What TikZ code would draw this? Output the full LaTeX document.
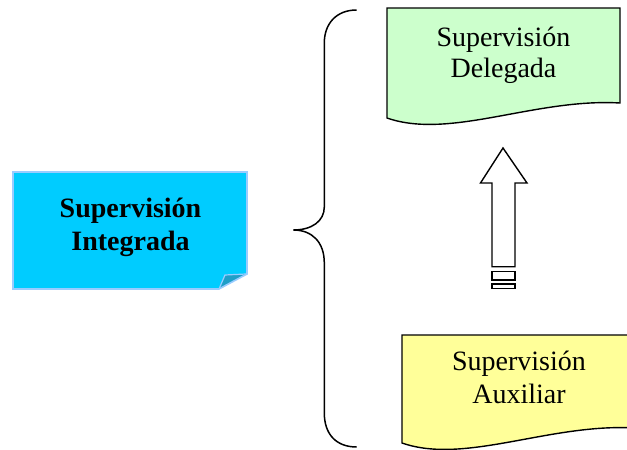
\documentclass[tikz,border=0pt]{standalone}
\usepackage{fontspec}
\setmainfont{Liberation Serif}
\begin{document}
\begin{tikzpicture}[x=1pt,y=-1pt,
  outline/.style={draw=black,line width=1.4pt,line join=miter},
  label/.style={inner sep=0pt,align=center,font=\fontsize{28}{31}\selectfont},
  boldlabel/.style={label,font=\fontsize{28}{33.7}\selectfont\bfseries}]
\useasboundingbox (0,0) rectangle (627,450);
\definecolor{notecyan}{HTML}{00CCFF}
\definecolor{noteedge}{HTML}{99CCFF}
\definecolor{notefold}{HTML}{1E9FC8}
\definecolor{docgreen}{HTML}{CCFFCC}
\definecolor{docyellow}{HTML}{FFFF99}

% note with folded corner
\fill[notecyan] (13,172) -- (247,172) -- (247,274) -- (219,289) -- (13,289) -- cycle;
\fill[notefold] (225,275) -- (246,274) -- (219,289) -- cycle;
\draw[noteedge,line width=1.6pt] (219,289) -- (13,289) -- (13,172) -- (247,172) -- (247,274) -- (219,289);
\draw[noteedge,line width=1.2pt] (219,289) -- (225,275) -- (246,274);
\node[boldlabel,anchor=base] (integrada) at (130.5,250.7) {Supervisión\\Integrada};

% document shapes
\clip (0,0) rectangle (627,450);
\draw[outline,fill=docgreen] (387,118) -- (387,8) -- (620,8) -- (620,103)
  .. controls (535,98) and (450,140) .. (387,118) -- cycle;
\node[label,font=\fontsize{28}{30.6}\selectfont,anchor=base] (delegada) at (503.5,77.3) {Supervisión\\Delegada};

\draw[outline,fill=docyellow] (402,443) -- (402,335) -- (635,335) -- (635,428)
  .. controls (550,423) and (465,465) .. (402,443) -- cycle;
\node[label,font=\fontsize{28}{33.3}\selectfont,anchor=base] (auxiliar) at (519,403.3) {Supervisión\\Auxiliar};

% curly brace
\draw[line width=1.5pt] (356.7,10) .. controls (336,10) and (324.3,24) .. (324.3,43)
  -- (324.3,207) .. controls (324.3,221) and (312,230) .. (293.3,230)
  .. controls (312,230) and (324.3,242) .. (324.3,263)
  -- (324.3,413) .. controls (324.3,434) and (336,447) .. (356.7,447);

% block arrow
\draw[outline,fill=white] (503,148) -- (527,183) -- (515,183) -- (515,266.7)
  -- (492,266.7) -- (492,183) -- (480.5,183) -- cycle;
\draw[outline,fill=white] (492,271.7) rectangle (515,280);
\draw[outline,fill=white] (492,284) rectangle (515,288.3);
\end{tikzpicture}
\end{document}
